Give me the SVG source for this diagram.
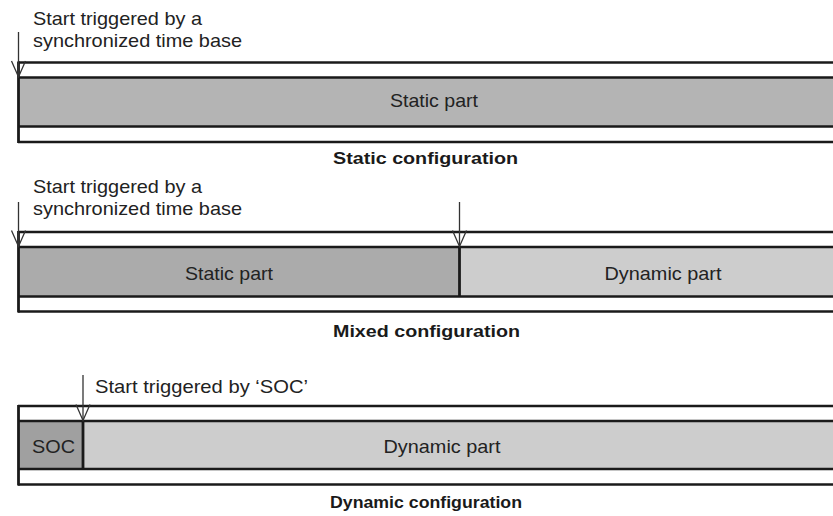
<svg xmlns="http://www.w3.org/2000/svg" width="833" height="516" viewBox="0 0 833 516">
  <style>
    .rail { fill: none; stroke: #1a1a1a; stroke-width: 2.6; }
    .edge { fill: none; stroke: #1a1a1a; stroke-width: 2.8; }
    .part-static { fill: #b4b4b4; }
    .part-static2 { fill: #ababab; }
    .part-dyn { fill: #cdcdcd; }
    .part-soc { fill: #a0a0a0; }
    .lbl { font-family: "Liberation Sans", Arial, sans-serif; font-size: 18.5px; fill: #222; }
    .cap { font-family: "Liberation Sans", Arial, sans-serif; font-size: 16.5px; font-weight: bold; fill: #1a1a1a; }
    .trig { fill: none; stroke: #333; stroke-width: 1.3; }
  </style>

  <!-- Static configuration -->
  <g id="static-config">
    <rect class="part-static" x="18" y="77.5" width="820" height="49"/>
    <line class="rail" x1="18" y1="62.5" x2="840" y2="62.5"/>
    <line class="rail" x1="18" y1="77.5" x2="840" y2="77.5"/>
    <line class="rail" x1="18" y1="126.5" x2="840" y2="126.5"/>
    <line class="rail" x1="18" y1="142" x2="840" y2="142"/>
    <line class="edge" x1="18.5" y1="61.5" x2="18.5" y2="143"/>
    <text class="lbl" x="434" y="107" text-anchor="middle" textLength="88" lengthAdjust="spacingAndGlyphs">Static part</text>
    <text class="lbl" x="33" y="25" textLength="169" lengthAdjust="spacingAndGlyphs">Start triggered by a</text>
    <text class="lbl" x="33" y="47" textLength="209" lengthAdjust="spacingAndGlyphs">synchronized time base</text>
    <text class="cap" x="425.5" y="164" text-anchor="middle" textLength="185" lengthAdjust="spacingAndGlyphs">Static configuration</text>
  </g>

  <!-- Mixed configuration -->
  <g id="mixed-config">
    <rect class="part-static2" x="18" y="247" width="441.5" height="49.5"/>
    <rect class="part-dyn" x="459.5" y="247" width="380" height="49.5"/>
    <line class="rail" x1="18" y1="232" x2="840" y2="232"/>
    <line class="rail" x1="18" y1="247" x2="840" y2="247"/>
    <line class="rail" x1="18" y1="296.5" x2="840" y2="296.5"/>
    <line class="rail" x1="18" y1="311.5" x2="840" y2="311.5"/>
    <line class="edge" x1="18.5" y1="231" x2="18.5" y2="312.5"/>
    <line class="edge" x1="459.5" y1="247" x2="459.5" y2="296.5"/>
    <text class="lbl" x="229" y="280" text-anchor="middle" textLength="88" lengthAdjust="spacingAndGlyphs">Static part</text>
    <text class="lbl" x="663" y="280" text-anchor="middle" textLength="117" lengthAdjust="spacingAndGlyphs">Dynamic part</text>
    <text class="lbl" x="33" y="193" textLength="169" lengthAdjust="spacingAndGlyphs">Start triggered by a</text>
    <text class="lbl" x="33" y="215" textLength="209" lengthAdjust="spacingAndGlyphs">synchronized time base</text>
    <text class="cap" x="426.5" y="337" text-anchor="middle" textLength="187" lengthAdjust="spacingAndGlyphs">Mixed configuration</text>
  </g>

  <!-- Dynamic configuration -->
  <g id="dynamic-config">
    <rect class="part-soc" x="18" y="421" width="65" height="48"/>
    <rect class="part-dyn" x="83" y="421" width="757" height="48"/>
    <line class="rail" x1="18" y1="406" x2="840" y2="406"/>
    <line class="rail" x1="18" y1="421" x2="840" y2="421"/>
    <line class="rail" x1="18" y1="469" x2="840" y2="469"/>
    <line class="rail" x1="18" y1="484.5" x2="840" y2="484.5"/>
    <line class="edge" x1="18.5" y1="405" x2="18.5" y2="485.5"/>
    <line class="edge" x1="83" y1="421" x2="83" y2="469"/>
    <text class="lbl" x="53.5" y="452.5" text-anchor="middle" textLength="43" lengthAdjust="spacingAndGlyphs">SOC</text>
    <text class="lbl" x="442" y="452.5" text-anchor="middle" textLength="117" lengthAdjust="spacingAndGlyphs">Dynamic part</text>
    <text class="lbl" x="95" y="393" textLength="213" lengthAdjust="spacingAndGlyphs">Start triggered by ‘SOC’</text>
    <text class="cap" x="426" y="508" text-anchor="middle" textLength="192" lengthAdjust="spacingAndGlyphs">Dynamic configuration</text>
  </g>

  <!-- Start triggers -->
  <g id="connectors">
    <line class="trig" x1="18.5" y1="32" x2="18.5" y2="77"/>
    <polyline class="trig" points="11.5,61 18.5,77 25.5,61"/>
    <line class="trig" x1="18.5" y1="202" x2="18.5" y2="246.5"/>
    <polyline class="trig" points="11.5,230.5 18.5,246.5 25.5,230.5"/>
    <line class="trig" x1="459.5" y1="202" x2="459.5" y2="246.5"/>
    <polyline class="trig" points="452.5,230.5 459.5,246.5 466.5,230.5"/>
    <line class="trig" x1="83" y1="375" x2="83" y2="420.5"/>
    <polyline class="trig" points="76,404.5 83,420.5 90,404.5"/>
  </g>
</svg>
